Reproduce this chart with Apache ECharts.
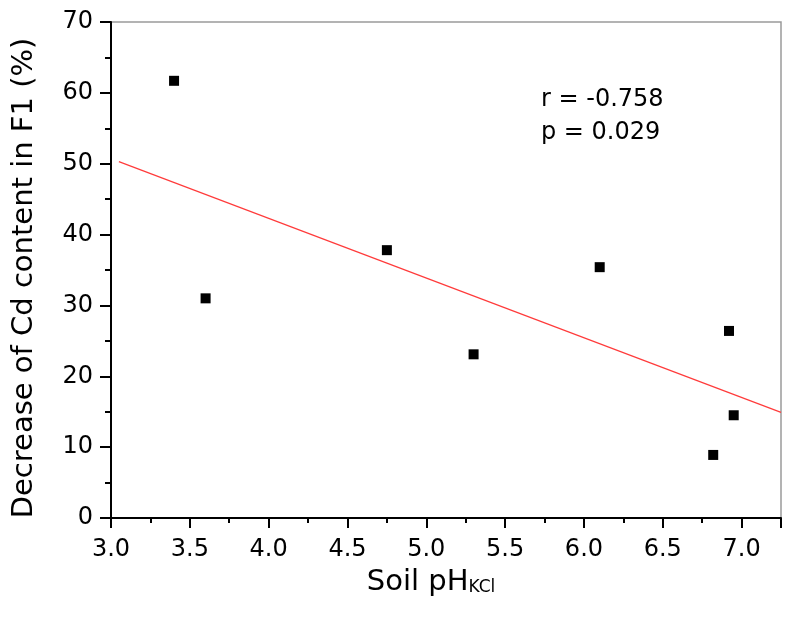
<!DOCTYPE html>
<html>
<head>
<meta charset="utf-8">
<script src="https://cdn.jsdelivr.net/npm/echarts@6/dist/echarts.min.js"></script>
<style>
  html, body { margin: 0; padding: 0; background: #fff; }
  #chart { width: 787px; height: 630px; }
</style>
</head>
<body>
<div id="chart"></div>
<script>
// soil pH (KCl) vs decrease of Cd content in F1 (%)
var phValues = [3.40, 3.60, 4.75, 5.30, 6.10, 6.92, 6.95, 6.82];
var cdDecrease = [61.7, 31.0, 37.8, 23.1, 35.4, 26.4, 14.5, 8.9];
// linear fit, end points
var fitX = [3.05, 7.25];
var fitY = [50.3, 14.9];
var statsLines = ['r = -0.758', 'p = 0.029'];

var font = '"DejaVu Sans", sans-serif';
var chart = echarts.init(document.getElementById('chart'));

var option = {
    animation: false,
    grid: {
        left: 111, right: 6, top: 22, bottom: 112,
        outerBoundsMode: 'none',
        show: true, borderColor: '#9a9a9a', borderWidth: 1.5
    },
    xAxis: {
        type: 'value',
        min: 3.0, max: 7.25, interval: 0.5,
        name: '{a|Soil pH}{b|KCl}',
        nameLocation: 'middle',
        nameGap: 50,
        nameTextStyle: {
            verticalAlign: 'top',
            padding: [0, 30, 0, 0],
            rich: {
                a: { fontFamily: font, fontSize: 29, color: '#000', verticalAlign: 'bottom' },
                b: { fontFamily: font, fontSize: 17, color: '#000', verticalAlign: 'bottom', padding: [0, 0, 1, 0] }
            }
        },
        axisLine: { lineStyle: { color: '#000', width: 2 } },
        axisTick: { inside: false, length: 10, lineStyle: { color: '#000', width: 2 } },
        minorTick: { show: true, splitNumber: 2, length: 5, lineStyle: { color: '#000', width: 2 } },
        splitLine: { show: false },
        axisLabel: {
            fontFamily: font, fontSize: 24, color: '#000', margin: 20,
            formatter: function (v) { return v.toFixed(1); },
            showMaxLabel: false
        }
    },
    yAxis: {
        type: 'value',
        min: 0, max: 70, interval: 10,
        name: 'Decrease of Cd content in F1 (%)',
        nameLocation: 'middle',
        nameGap: 72,
        nameTextStyle: { fontFamily: font, fontSize: 29, color: '#000', padding: [0, 16, 0, 0] },
        axisLine: { lineStyle: { color: '#000', width: 2 } },
        axisTick: { inside: false, length: 11, lineStyle: { color: '#000', width: 2 } },
        minorTick: { show: true, splitNumber: 2, length: 6, lineStyle: { color: '#000', width: 2 } },
        splitLine: { show: false },
        axisLabel: { fontFamily: font, fontSize: 24, color: '#000', margin: 18 }
    },
    graphic: [{
        type: 'text',
        left: 541, top: 83,
        style: {
            text: statsLines.join('\n'),
            font: '24px ' + font,
            lineHeight: 33,
            fill: '#000'
        }
    }],
    series: [
        {
            type: 'line',
            data: fitX.map(function (x, i) { return [x, fitY[i]]; }),
            showSymbol: false,
            lineStyle: { color: '#ff3b3b', width: 1.2 },
            z: 2
        },
        {
            type: 'scatter',
            data: phValues.map(function (x, i) { return [x, cdDecrease[i]]; }),
            symbol: 'rect',
            symbolSize: 10,
            itemStyle: { color: '#000', opacity: 1 },
            z: 3
        }
    ]
};

chart.setOption(option);
</script>
</body>
</html>
